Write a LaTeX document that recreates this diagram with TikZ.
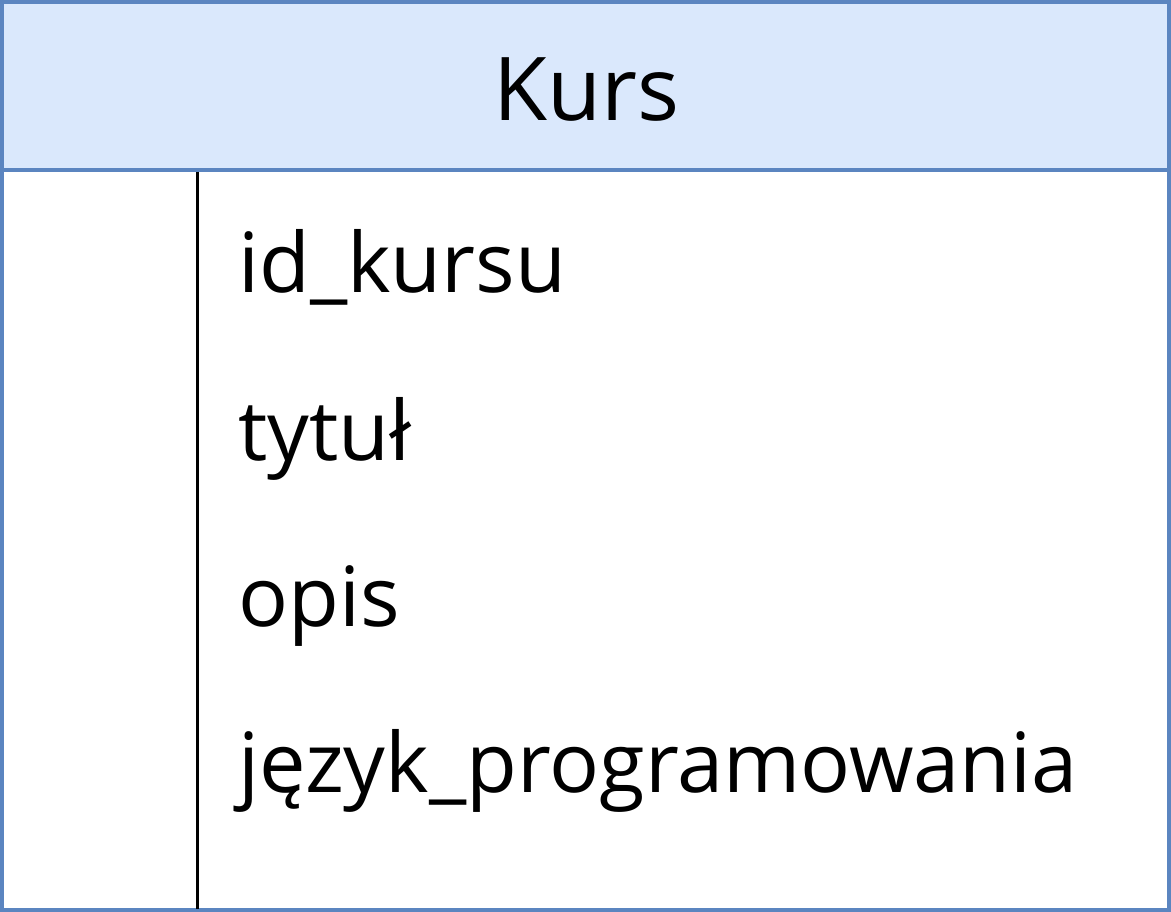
\documentclass[tikz,border=0pt]{standalone}
\usepackage{fontspec}
\setmainfont{Open Sans}
\usetikzlibrary{positioning}
\definecolor{kursHead}{HTML}{DAE8FC}
\definecolor{kursBorder}{HTML}{5B85C0}

\begin{document}
\begin{tikzpicture}[x=1pt, y=-1pt]
        \useasboundingbox (0,0) rectangle (1171,912);
        \fill[color=white] (0,0) rectangle (1171,912);
        
        \coordinate (cTopLeft) at (2,2);
        \coordinate (cHeadRight) at (1169,170);
        \coordinate (cBodyLeft) at (2,170);
        \coordinate (cBottomRight) at (1169,910);
        \coordinate (cSepTop) at (197,172);
        \coordinate (cSepBottom) at (197,909);
        
        \draw[line width=4pt, color=kursBorder, fill=kursHead] (cTopLeft) rectangle (cHeadRight);
        \draw[line width=4pt, color=kursBorder] (cBodyLeft) rectangle (cBottomRight);
        \draw[line width=3pt] (cSepTop) -- (cSepBottom);
        
        \node[anchor=base, inner sep=0pt, font=\fontsize{88}{100}\selectfont] (nTitle) at (586,121) {Kurs};
        
        \foreach \v/\u/\t in 
        {nIdKursu/293/id\_kursu,
            nTytul/460/tytuł,
            nOpis/626/opis,
            nJezyk/792/język\_programowania
        }
        {
            \node[anchor=base west, inner sep=0pt, font=\fontsize{83}{96}\selectfont] (\v) at (238,\u) {\t};
        };
        
        \end{tikzpicture}
\end{document}
